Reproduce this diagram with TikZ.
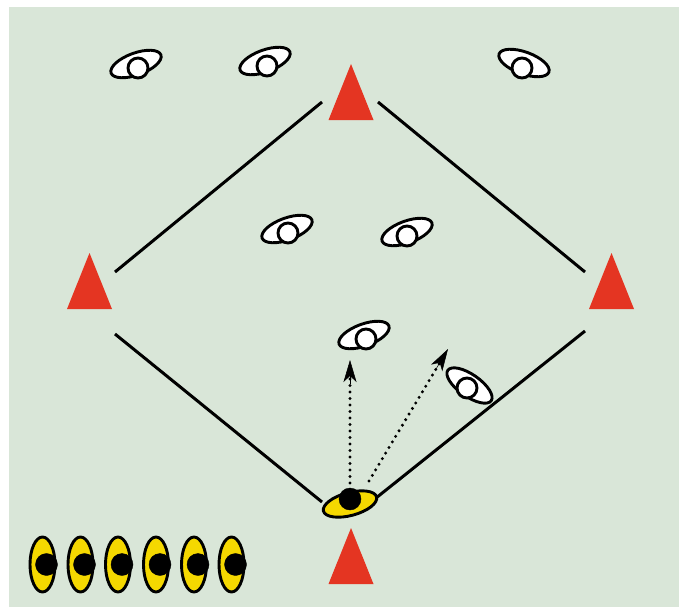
\documentclass[tikz,border=0pt]{standalone}
\usetikzlibrary{shapes.geometric,arrows.meta,calc}
\definecolor{field}{HTML}{D9E6D8}
\definecolor{conered}{HTML}{E43522}
\definecolor{shirt}{HTML}{F5D800}
\tikzset{
  conefill/.style={fill=conered, draw=none},
  whitebody/.style={ellipse, draw=black, line width=2.9pt, fill=white, minimum width=53pt, minimum height=22pt, inner sep=0pt},
  whitehead/.style={circle, draw=black, line width=2.9pt, fill=white, minimum size=20pt, inner sep=0pt},
  yellowbody/.style={ellipse, draw=black, line width=2.9pt, fill=shirt, minimum width=55pt, minimum height=23pt, inner sep=0pt},
  blackhead/.style={circle, fill=black, draw=black, minimum size=22pt, inner sep=0pt},
  fieldline/.style={line width=3pt, black},
  run/.style={line width=3.3pt, line cap=round, dash pattern=on 0pt off 6.5pt},
  runtip/.style={line width=0.5pt, -{Stealth[length=22pt,width=13pt,inset=6pt]}},
}
\newcommand{\conetri}[1]{\fill[conefill] ($(#1)+(0,-28)$) -- ($(#1)+(22.5,28)$) -- ($(#1)+(-22.5,28)$) -- cycle;}
\begin{document}
\begin{tikzpicture}[x=1pt,y=-1pt]
\useasboundingbox (0,0) rectangle (679,607);
\fill[field] (9,7) rectangle (679,607);

% cones
\coordinate (ct) at (351,92);
\coordinate (cl) at (89.5,281);
\coordinate (cr) at (611.5,281);
\coordinate (cb) at (351,556);
\conetri{ct}\conetri{cl}\conetri{cr}\conetri{cb}

% line ends
\coordinate (tl1) at (115,272); \coordinate (tl2) at (322,102);
\coordinate (tr1) at (378,102); \coordinate (tr2) at (585,272);
\coordinate (bl1) at (115,334); \coordinate (bl2) at (322,502);
\coordinate (br1) at (585,331); \coordinate (br2) at (376,498);
\draw[fieldline] (tl1) -- (tl2);
\draw[fieldline] (tr1) -- (tr2);
\draw[fieldline] (bl1) -- (bl2);
\draw[fieldline] (br1) -- (br2);

% white players
\node[whitebody, rotate=20] (w1) at (136,64) {};
\node[whitehead] (h1) at (138,68) {};
\node[whitebody, rotate=20] (w2) at (265,61) {};
\node[whitehead] (h2) at (267,66) {};
\node[whitebody, rotate=-20] (w3) at (524,63) {};
\node[whitehead] (h3) at (522,68) {};
\node[whitebody, rotate=20] (w4) at (287,229) {};
\node[whitehead] (h4) at (288,233) {};
\node[whitebody, rotate=20] (w5) at (407,232) {};
\node[whitehead] (h5) at (407,236) {};
\node[whitebody, rotate=20] (w6) at (364,335) {};
\node[whitehead] (h6) at (366,339) {};
\node[whitebody, rotate=-35] (w7) at (469.5,385.5) {};
\node[whitehead] (h7) at (467,388) {};

% runs
\coordinate (r1s) at (350,483); \coordinate (r1e) at (350,360);
\coordinate (r2s) at (369,481); \coordinate (r2e) at (448,349);
\draw[run] (r1s) -- ($(r1e)!16pt!(r1s)$);
\draw[run] (r2s) -- ($(r2e)!16pt!(r2s)$);
\draw[runtip] ($(r1e)!24pt!(r1s)$) -- (r1e);
\draw[runtip] ($(r2e)!24pt!(r2s)$) -- (r2e);

% ball carrier
\node[yellowbody, rotate=15] (y0) at (350,504) {};
\node[blackhead] (b0) at (350,499) {};

% bench
\foreach \i/\x in {1/42.5,2/80.5,3/118,4/156,5/194,6/231.5}{
  \node[yellowbody, minimum width=55pt, minimum height=25pt, rotate=90] (q\i) at (\x,564.5) {};
  \node[blackhead] (k\i) at (\x+4,564.5) {};
}
\end{tikzpicture}
\end{document}
